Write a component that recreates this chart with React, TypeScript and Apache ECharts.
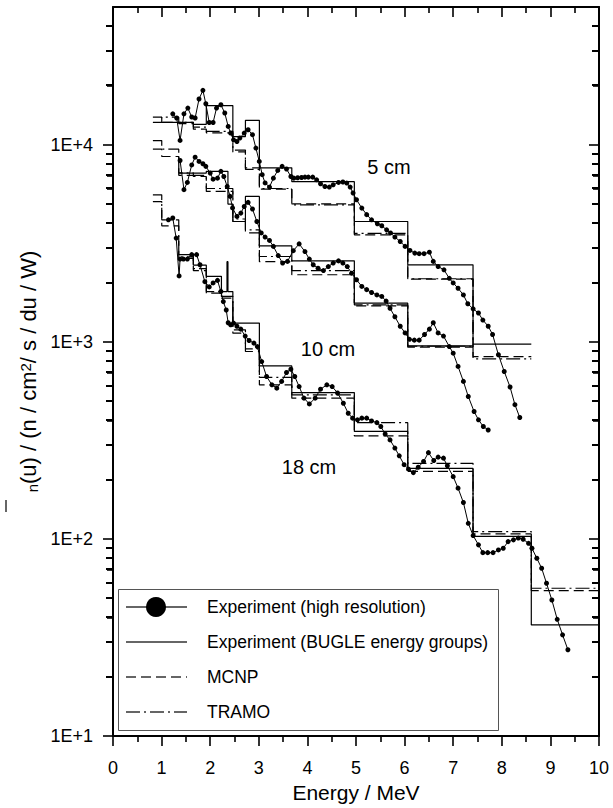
import React, { useEffect, useRef } from 'react';
import * as echarts from 'echarts';

// BUGLE-96 group boundaries (MeV) used by the group-wise spectra
const GROUP_EDGES = [0.8208, 1.003, 1.353, 1.653, 1.92, 2.231, 2.307, 2.346, 2.365, 2.466, 2.725, 3.012, 3.679, 4.966, 6.065, 7.408, 8.607, 10.0];

// Group-wise flux per unit lethargy, one value per group (null = not given)
const bugle5 = [null, 13000, 13000, 12700, 15800, 15800, 15800, 15800, 15800, 11000, 13300, 7640, 6500, 4080, 2460, 973, null];
const mcnp5 = [13800, 13000, 12800, 12000, 11500, 11500, 11500, 11500, 11500, 9200, 7630, 5950, 5010, 3490, 2080, 842, null];
const tramo5 = [13000, 13800, 13000, 12300, 11700, 11700, 11700, 11700, 11700, 9400, 7500, 6000, 4950, 3550, 2090, 820, null];

const bugle10 = [null, null, 7180, 7180, 7330, 7330, 7330, 7330, 5000, 4080, 5470, 3070, 2577, 1571, 955, null, null];
const mcnp10 = [9500, 8720, 7000, 6900, 5800, 5800, 5800, 5800, 5800, 4080, 3570, 2550, 2190, 1523, 940, null, null];
const tramo10 = [10500, 9500, 7200, 7000, 6000, 6000, 6000, 6000, 6000, 4200, 3700, 2710, 2300, 1540, 950, null, null];

const bugle18 = [null, null, 2770, 2450, 2150, 1800, 1800, 2550, 1800, 1245, 1245, 755, 553, 351, 228, 103, 36.6];
const mcnp18 = [5150, 3880, 2650, 2300, 1765, 1667, 1667, 1667, 1667, 1107, 893, 605, 518, 333, 220, 106, 54.6];
const tramo18 = [5570, 4160, 2700, 2350, 1800, 1700, 1700, 1700, 1700, 1150, 920, 660, 538, 389, 242, 109, 56.2];

// High-resolution measured spectra: [energy MeV, flux]
const hires5 = [
  [1.23, 14350], [1.31, 13670], [1.38, 10520], [1.46, 14350], [1.54, 15350], [1.62, 13830], [1.69, 13670],
  [1.77, 17060], [1.85, 18880], [1.91, 16140], [1.98, 12970], [2.06, 12970], [2.13, 15350], [2.22, 15960],
  [2.3, 14490], [2.37, 12390], [2.42, 11460], [2.48, 10590], [2.55, 10390], [2.61, 10820], [2.7, 11460],
  [2.78, 11920], [2.87, 11250], [2.94, 9620], [3.01, 8230], [3.07, 7050], [3.13, 6400], [3.22, 6100],
  [3.3, 6770], [3.39, 7410], [3.48, 7770], [3.57, 7530], [3.66, 6900], [3.72, 6770], [3.8, 6800],
  [3.88, 6820], [3.95, 6850], [4.02, 6850], [4.11, 6850], [4.19, 6640], [4.27, 6340], [4.36, 6140],
  [4.45, 6100], [4.53, 6260], [4.64, 6440], [4.73, 6470], [4.81, 6390], [4.88, 6100], [4.94, 5690],
  [5.01, 5260], [5.12, 4770], [5.22, 4420], [5.32, 4160], [5.44, 3970], [5.53, 3880], [5.63, 3700],
  [5.71, 3570], [5.8, 3400], [5.91, 3230], [6.01, 3050], [6.11, 2910], [6.21, 2820], [6.3, 2800],
  [6.4, 2800], [6.51, 2850], [6.59, 2560], [6.69, 2410], [6.81, 2320], [6.92, 2100], [7.0, 1990],
  [7.1, 1870], [7.21, 1730], [7.3, 1560], [7.41, 1470], [7.52, 1400], [7.61, 1290], [7.72, 1200],
  [7.81, 1090], [7.93, 860], [8.05, 707], [8.17, 590], [8.27, 480], [8.37, 413]
];
const hires10 = [
  [1.38, 8320], [1.46, 5920], [1.53, 6440], [1.62, 7900], [1.69, 8650], [1.77, 8230], [1.85, 8010],
  [1.91, 7770], [2.0, 7180], [2.06, 6690], [2.15, 6770], [2.22, 7330], [2.28, 6900], [2.35, 6140],
  [2.41, 5470], [2.46, 4780], [2.55, 4330], [2.63, 4500], [2.7, 4860], [2.78, 5100], [2.87, 4720],
  [2.96, 4080], [3.05, 3570], [3.13, 3400], [3.22, 3270], [3.3, 3050], [3.4, 2740], [3.49, 2510],
  [3.59, 2560], [3.71, 2900], [3.83, 3140], [3.95, 2870], [4.04, 2630], [4.12, 2460], [4.22, 2365],
  [4.33, 2300], [4.43, 2410], [4.53, 2510], [4.64, 2575], [4.73, 2510], [4.82, 2410], [4.91, 2230],
  [5.01, 2065], [5.12, 1910], [5.22, 1840], [5.32, 1780], [5.43, 1730], [5.53, 1700], [5.62, 1610],
  [5.7, 1480], [5.8, 1340], [5.91, 1200], [6.01, 1110], [6.1, 1030], [6.2, 1020], [6.3, 1020],
  [6.41, 1090], [6.51, 1160], [6.59, 1250], [6.69, 1110], [6.8, 1070], [6.92, 946], [7.0, 876],
  [7.1, 750], [7.21, 630], [7.31, 528], [7.43, 443], [7.52, 402], [7.62, 372], [7.72, 357]
];
const hires18 = [
  [1.14, 4160], [1.23, 4250], [1.3, 3360], [1.36, 2160], [1.38, 2630], [1.45, 2630], [1.53, 2630],
  [1.62, 2770], [1.72, 2770], [1.79, 2460], [1.89, 2020], [1.98, 1900], [2.06, 1990], [2.15, 2050],
  [2.22, 1800], [2.27, 1600], [2.33, 1450], [2.37, 1250], [2.42, 1220], [2.48, 1245], [2.55, 1200],
  [2.63, 1160], [2.72, 1070], [2.8, 1016], [2.9, 985], [2.97, 946], [3.06, 794], [3.16, 667],
  [3.27, 605], [3.37, 582], [3.47, 630], [3.57, 699], [3.66, 726], [3.74, 667], [3.83, 593],
  [3.93, 518], [4.04, 484], [4.16, 518], [4.27, 575], [4.4, 605], [4.51, 593], [4.62, 550],
  [4.74, 488], [4.84, 434], [4.93, 410], [5.03, 402], [5.12, 410], [5.22, 410], [5.32, 397],
  [5.43, 389], [5.51, 372], [5.6, 341], [5.7, 318], [5.8, 289], [5.89, 264], [5.99, 238],
  [6.08, 226], [6.18, 217], [6.28, 231], [6.39, 247], [6.49, 274], [6.6, 250], [6.69, 260],
  [6.8, 257], [6.88, 235], [7.0, 207], [7.1, 181], [7.21, 153], [7.31, 120], [7.41, 104],
  [7.52, 93.3], [7.61, 85.2], [7.71, 85.2], [7.82, 85.2], [7.93, 87.9], [8.03, 89.7], [8.13, 96.9],
  [8.24, 98.9], [8.34, 101], [8.44, 99.6], [8.55, 95], [8.62, 89.7], [8.72, 79.8], [8.82, 71],
  [8.92, 59.6], [9.03, 49], [9.14, 39.1], [9.25, 32.6], [9.36, 27.4]
];

const X_TICKS = [0, 1, 2, 3, 4, 5, 6, 7, 8, 9, 10];
const Y_MIN = 10;
const Y_MAX = 50000;
const MINOR_MULTIPLIERS = [2, 3, 4, 5, 6, 7, 8, 9];
const DECADES = [10, 100, 1000, 10000];

const LEGEND_LABELS = [
  'Experiment (high resolution)',
  'Experiment (BUGLE energy groups)',
  'MCNP',
  'TRAMO'
];
const DEPTH_LABELS = ['5 cm', '10 cm', '18 cm'];

const FONT = '"Liberation Sans", Arial, Helvetica, sans-serif';
const DASH = [10, 5];
const DASH_DOT = [14, 4, 2, 4];

// plot frame inside the 613 x 808 canvas
const GRID = { left: 113, right: 14, top: 7, bottom: 72 };
const CANVAS_W = 613;
const CANVAS_H = 808;

// Turns per-group values into points for an 'end' step line
function groupSteps(values: (number | null)[]) {
  const pts: number[][] = [];
  let last = -1;
  values.forEach((v, i) => {
    if (v != null) {
      pts.push([GROUP_EDGES[i], v]);
      last = i;
    }
  });
  if (last >= 0) pts.push([GROUP_EDGES[last + 1], values[last] as number]);
  return pts;
}

export default function App() {
  const ref = useRef<HTMLDivElement>(null);

  useEffect(() => {
    if (!ref.current) return;
    const chart = echarts.init(ref.current, null, { renderer: 'svg' });

    const lineBase = {
      type: 'line' as const,
      xAxisIndex: 0,
      yAxisIndex: 0,
      silent: true,
      z: 3
    };
    const hiresSeries = (data: number[][]) => ({
      ...lineBase,
      name: LEGEND_LABELS[0],
      data,
      symbol: 'circle',
      symbolSize: 5,
      showSymbol: true,
      itemStyle: { color: '#000' },
      lineStyle: { color: '#000', width: 1 }
    });
    const stepSeries = (name: string, values: (number | null)[], type: any) => ({
      ...lineBase,
      name,
      data: groupSteps(values),
      step: 'end',
      symbol: 'none',
      lineStyle: { color: '#000', width: 1.2, type }
    });

    const series: any[] = [
      hiresSeries(hires5), hiresSeries(hires10), hiresSeries(hires18),
      stepSeries(LEGEND_LABELS[1], bugle5, 'solid'),
      stepSeries(LEGEND_LABELS[1], bugle10, 'solid'),
      stepSeries(LEGEND_LABELS[1], bugle18, 'solid'),
      stepSeries(LEGEND_LABELS[2], mcnp5, DASH),
      stepSeries(LEGEND_LABELS[2], mcnp10, DASH),
      stepSeries(LEGEND_LABELS[2], mcnp18, DASH),
      stepSeries(LEGEND_LABELS[3], tramo5, DASH_DOT),
      stepSeries(LEGEND_LABELS[3], tramo10, DASH_DOT),
      stepSeries(LEGEND_LABELS[3], tramo18, DASH_DOT)
    ];

    // minor decade tick values 2..9 x 10^n
    const minorValues: number[] = [];
    DECADES.forEach((d) =>
      MINOR_MULTIPLIERS.forEach((k) => {
        if (k * d < Y_MAX) minorValues.push(k * d);
      })
    );

    const axisLine = { show: true, onZero: false, lineStyle: { color: '#000', width: 2 } };
    const hiddenLine = { show: true, onZero: false, lineStyle: { color: '#000', width: 0, opacity: 0 } };

    // Minor ticks as thin bars on both frame edges, on the same log mapping as the y axis
    const xL = GRID.left;
    const xR = CANVAS_W - GRID.right;
    const yTop = GRID.top;
    const yBot = CANVAS_H - GRID.bottom;
    const lo = Math.log10(Y_MIN);
    const hi = Math.log10(Y_MAX);
    const minorTickEls: any[] = [];
    minorValues.forEach((v) => {
      const y = Math.round(yBot - ((Math.log10(v) - lo) / (hi - lo)) * (yBot - yTop));
      minorTickEls.push({
        type: 'rect',
        shape: { x: xL - 7, y: y - 1, width: 7, height: 2 },
        style: { fill: '#000' },
        z: 20
      });
      minorTickEls.push({
        type: 'rect',
        shape: { x: xR - 7, y: y - 1, width: 7, height: 2 },
        style: { fill: '#000' },
        z: 20
      });
    });

    // Hand-drawn legend box
    const legendRows = [607, 642, 677, 712];
    const legendChildren: any[] = [
      {
        type: 'rect',
        shape: { x: 118.5, y: 589.5, width: 380, height: 141 },
        style: { fill: '#fff', stroke: '#555', lineWidth: 1 },
        z: 10
      }
    ];
    const lineDashes: any[] = [null, null, DASH, DASH_DOT];
    legendRows.forEach((y, i) => {
      legendChildren.push({
        type: 'line',
        shape: { x1: 126, y1: y, x2: 187, y2: y },
        style: { stroke: '#333', lineWidth: 1.4, lineDash: lineDashes[i] || null },
        z: 11
      });
      if (i === 0) {
        legendChildren.push({
          type: 'circle',
          shape: { cx: 156, cy: y, r: 10 },
          style: { fill: '#000' },
          z: 12
        });
      }
      legendChildren.push({
        type: 'text',
        x: 207,
        y,
        style: {
          text: LEGEND_LABELS[i],
          fontSize: 17.5,
          fontFamily: FONT,
          fill: '#000',
          verticalAlign: 'middle',
          align: 'left'
        },
        z: 12
      });
    });

    const depthPos = [[389, 167], [328, 349], [309, 467]];
    const depthTexts = DEPTH_LABELS.map((t, i) => ({
      type: 'text',
      x: depthPos[i][0],
      y: depthPos[i][1],
      style: {
        text: t,
        fontSize: 20,
        fontFamily: FONT,
        fill: '#000',
        align: 'center',
        verticalAlign: 'middle'
      },
      z: 12
    }));

    const tickStyle = { color: '#000', width: 1.6 };

    chart.setOption({
      animation: false,
      backgroundColor: '#fff',
      textStyle: { fontFamily: FONT, color: '#000' },
      grid: { ...GRID, containLabel: false },
      xAxis: [
        {
          type: 'value',
          min: 0,
          max: 10,
          interval: 1,
          position: 'bottom',
          axisLine,
          axisTick: { show: true, inside: false, length: 10, lineStyle: tickStyle },
          minorTick: { show: true, splitNumber: 2, length: 6, lineStyle: tickStyle },
          splitLine: { show: false },
          axisLabel: {
            fontSize: 18,
            margin: 23,
            color: '#000',
            fontFamily: FONT,
            formatter: (v: number) => (X_TICKS.includes(v) ? String(v) : '')
          },
          name: 'Energy / MeV',
          nameLocation: 'middle',
          nameGap: 46,
          nameTextStyle: { fontSize: 21, color: '#000', fontFamily: FONT }
        },
        {
          type: 'value',
          min: 0,
          max: 10,
          interval: 1,
          position: 'top',
          axisLine,
          axisTick: { show: true, inside: true, length: 10, lineStyle: tickStyle },
          minorTick: { show: true, splitNumber: 2, length: 6, lineStyle: tickStyle },
          splitLine: { show: false },
          axisLabel: { show: false }
        }
      ],
      yAxis: [
        {
          type: 'log',
          logBase: 10,
          min: Y_MIN,
          max: Y_MAX,
          position: 'left',
          axisLine,
          axisTick: { show: true, inside: false, length: 10, lineStyle: tickStyle },
          splitLine: { show: false },
          axisLabel: {
            fontSize: 18,
            margin: 20,
            color: '#000',
            fontFamily: FONT,
            showMaxLabel: false,
            formatter: (v: number) => {
              const e = Math.log10(v);
              return Math.abs(e - Math.round(e)) < 1e-6 ? `1E+${Math.round(e)}` : '';
            }
          },
          name: '{sub|n}(u) / (n / cm{sup|2}/ s / du / W)',
          nameLocation: 'middle',
          nameGap: 68,
          nameRotate: 90,
          nameTextStyle: {
            fontSize: 22,
            color: '#000',
            fontFamily: FONT,
            rich: {
              sub: { fontSize: 15, fontFamily: FONT, verticalAlign: 'bottom', lineHeight: 15, padding: [7, 0, 0, 0] },
              sup: { fontSize: 15, fontFamily: FONT, verticalAlign: 'top', lineHeight: 15, padding: [0, 0, 4, 0] }
            }
          }
        },
        {
          type: 'log',
          logBase: 10,
          min: Y_MIN,
          max: Y_MAX,
          position: 'right',
          axisLine,
          axisTick: { show: true, inside: true, length: 10, lineStyle: tickStyle },
          splitLine: { show: false },
          axisLabel: { show: false }
        },
        {
          type: 'log',
          logBase: 10,
          min: Y_MIN,
          max: Y_MAX,
          position: 'left',
          axisLine: hiddenLine,
          axisTick: { show: true, inside: false, length: 6, customValues: minorValues, lineStyle: tickStyle },
          splitLine: { show: false },
          axisLabel: { show: false }
        },
        {
          type: 'log',
          logBase: 10,
          min: Y_MIN,
          max: Y_MAX,
          position: 'right',
          axisLine: hiddenLine,
          axisTick: { show: true, inside: true, length: 6, customValues: minorValues, lineStyle: tickStyle },
          splitLine: { show: false },
          axisLabel: { show: false }
        }
      ],
      series,
      graphic: {
        elements: [
          ...legendChildren,
          ...depthTexts,
          ...minorTickEls,
          {
            type: 'line',
            shape: { x1: 6, y1: 500, x2: 6, y2: 512 },
            style: { stroke: '#333', lineWidth: 1.5 }
          }
        ]
      }
    });

    return () => chart.dispose();
  }, []);

  return (
    <div
      ref={ref}
      style={{ position: 'fixed', left: 0, top: 0, width: CANVAS_W, height: CANVAS_H, background: '#fff' }}
    />
  );
}
